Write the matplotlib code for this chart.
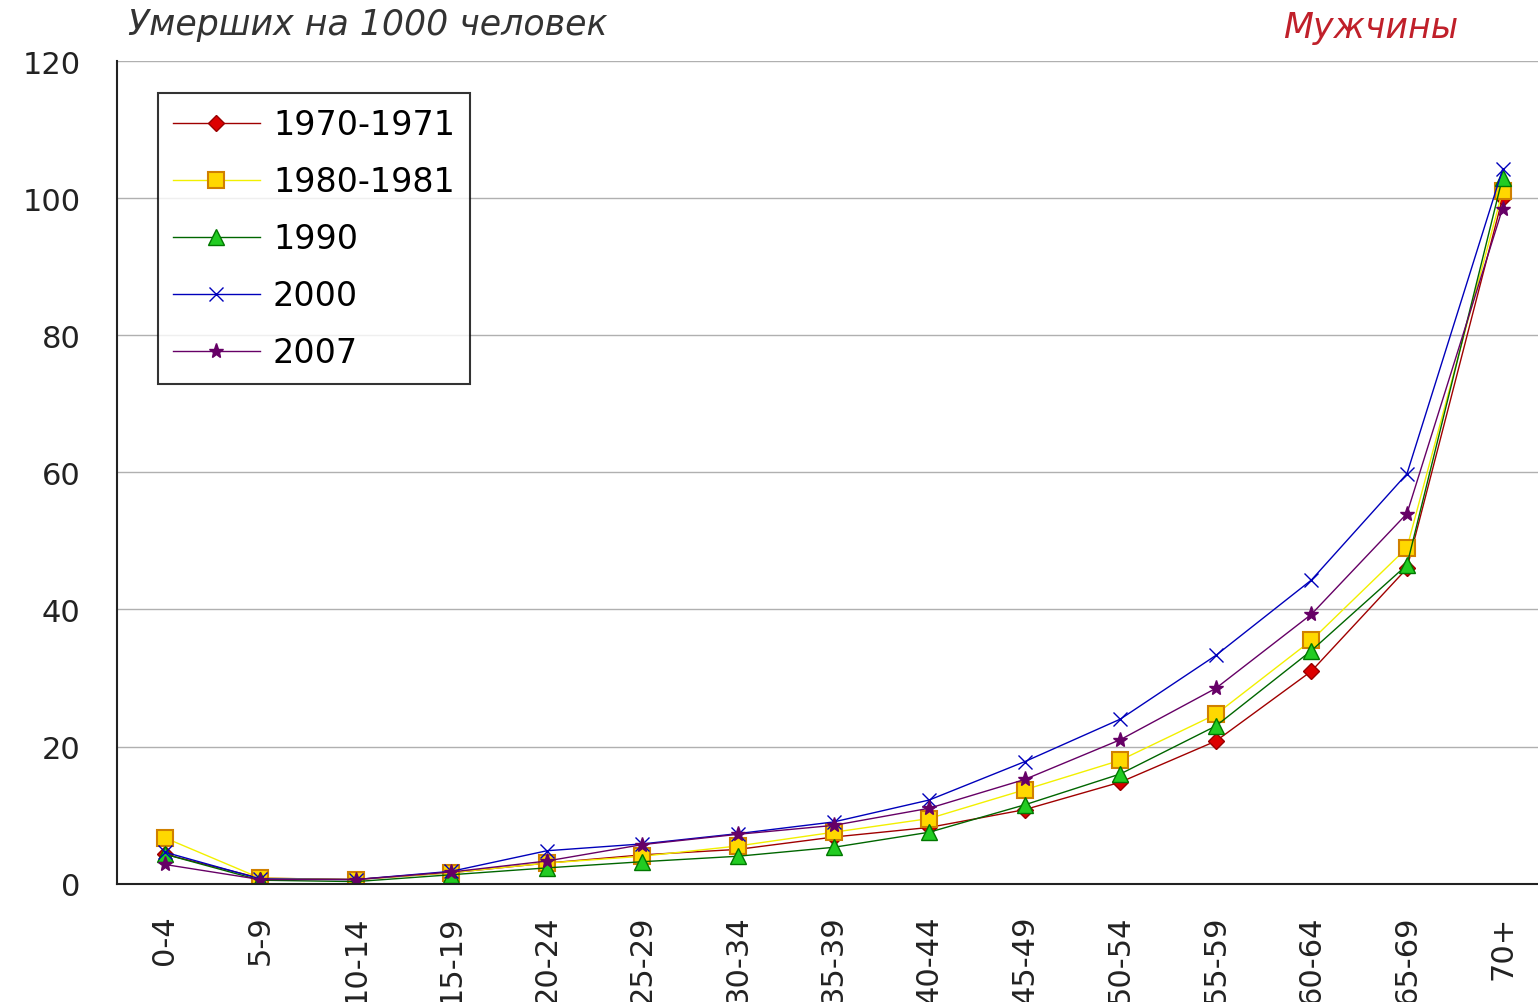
import matplotlib.pyplot as plt

# age groups
ages = ['0-4', '5-9', '10-14', '15-19', '20-24', '25-29', '30-34', '35-39',
        '40-44', '45-49', '50-54', '55-59', '60-64', '65-69', '70+']

# deaths per 1000, men
y1970 = [4.3, 0.8, 0.6, 1.6, 3.0, 4.2, 5.0, 6.8, 8.2, 10.8, 14.8, 20.8, 31.0, 46.0, 100.0]
y1980 = [6.7, 0.8, 0.6, 1.6, 3.0, 4.0, 5.5, 7.5, 9.5, 13.7, 18.0, 24.7, 35.5, 49.0, 101.0]
y1990 = [4.3, 0.5, 0.3, 1.3, 2.3, 3.2, 4.0, 5.3, 7.5, 11.5, 16.0, 23.0, 34.0, 46.5, 103.0]
y2000 = [4.6, 0.7, 0.6, 1.8, 4.8, 5.8, 7.3, 9.0, 12.2, 17.8, 24.0, 33.3, 44.3, 59.8, 104.2]
y2007 = [2.8, 0.6, 0.6, 1.7, 3.3, 5.7, 7.2, 8.5, 11.0, 15.2, 21.0, 28.5, 39.3, 54.0, 98.5]

plt.rcParams['font.family'] = ['DejaVu Sans']

fig = plt.figure(figsize=(15.38, 10.03), dpi=100)
ax = fig.add_axes([0.076, 0.118, 0.932, 0.820])

x = range(len(ages))
ax.plot(x, y1970, color='#a00000', lw=1, marker='D', ms=8,
        mfc='#dd0000', mec='#990000', label='1970-1971')
ax.plot(x, y1980, color='#f2f000', lw=1, marker='s', ms=11,
        mfc='#ffd800', mec='#d08000', mew=1.5, label='1980-1981')
ax.plot(x, y1990, color='#006600', lw=1, marker='^', ms=11,
        mfc='#22cc22', mec='#007700', label='1990')
ax.plot(x, y2000, color='#0000bb', lw=1, marker='x', ms=10,
        mec='#0000bb', mew=1, label='2000')
ax.plot(x, y2007, color='#660066', lw=1, marker='*', ms=11,
        mfc='#660066', mec='#660066', label='2007')

ax.set_xlim(-0.5, len(ages) - 0.5)
ax.set_ylim(0, 120)
ax.set_yticks(range(0, 121, 20))
ax.set_xticks(list(x))
ax.set_xticklabels(ages, rotation=90, fontsize=22, color='#222222')
ax.tick_params(axis='y', labelsize=22, labelcolor='#222222', length=0, pad=26)
ax.tick_params(axis='x', length=0, pad=22)
ax.grid(axis='y', color='#b0b0b0', lw=1)
ax.set_axisbelow(True)
for s in ['top', 'right']:
    ax.spines[s].set_visible(False)
ax.spines['left'].set_color('#222222')
ax.spines['bottom'].set_color('#222222')
ax.spines['left'].set_linewidth(1.5)
ax.spines['bottom'].set_linewidth(1.5)

leg = ax.legend(loc='upper left', bbox_to_anchor=(0.0286, 0.961), fontsize=24,
                frameon=True, fancybox=False, edgecolor='black', borderaxespad=0,
                handlelength=2.6, handletextpad=0.4, labelspacing=0.72,
                borderpad=0.45)
leg.get_frame().set_linewidth(1.5)

fig.text(0.083, 0.975, 'Умерших на 1000 человек', fontsize=25, style='italic',
         color='#333333', va='center')
fig.text(0.834, 0.972, 'Мужчины', fontsize=25, style='italic',
         color='#c0202a', va='center')

fig.savefig('out.png', dpi=100)
